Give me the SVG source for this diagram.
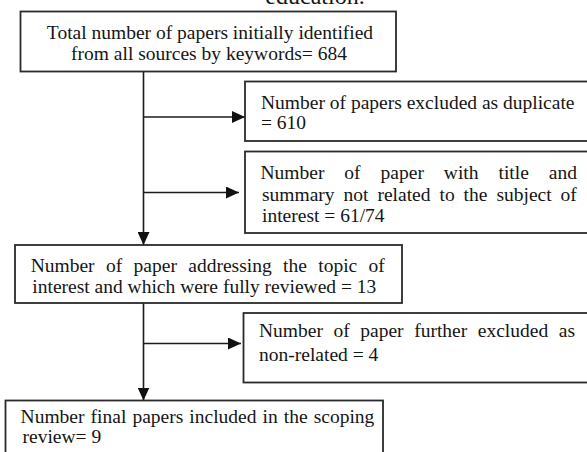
<svg xmlns="http://www.w3.org/2000/svg" width="587" height="452" viewBox="0 0 587 452">
<style>
.box{fill:#fff;stroke:#2a2a2a;stroke-width:1.8}
.t{font-family:"Liberation Serif","Times New Roman",serif;font-size:19.5px;fill:#151515}
.c{text-anchor:middle}
.ln{stroke:#1a1a1a;stroke-width:1.6;fill:none}
</style>
<defs>
<marker id="ah" markerUnits="userSpaceOnUse" markerWidth="14" markerHeight="12" refX="13" refY="6" orient="auto">
<path d="M0,0 L13,6 L0,12 Z" fill="#111"/>
</marker>
</defs>
<rect width="587" height="452" fill="#fff"/>
<text class="t c" x="315" y="4" style="font-size:24px">education.</text>
<g id="connectors">
<line class="ln" x1="143.5" y1="71.5" x2="143.5" y2="245" marker-end="url(#ah)"/>
<line class="ln" x1="143.5" y1="117" x2="245" y2="117" marker-end="url(#ah)"/>
<line class="ln" x1="143.5" y1="192.5" x2="239" y2="192.5" marker-end="url(#ah)"/>
<line class="ln" x1="143.5" y1="303" x2="143.5" y2="400.5" marker-end="url(#ah)"/>
<line class="ln" x1="143.5" y1="343.5" x2="241" y2="343.5" marker-end="url(#ah)"/>
</g>
<g id="n1">
<rect class="box" x="20.5" y="11.5" width="375.5" height="60"/>
<text class="t c" x="210" y="39">Total number of papers initially identified</text>
<text class="t c" x="209" y="60">from all sources by keywords= 684</text>
</g>
<g id="n2">
<rect class="box" x="245" y="81.5" width="350" height="59.5"/>
<text class="t" x="261" y="109">Number of papers excluded as duplicate</text>
<text class="t" x="261" y="129">= 610</text>
</g>
<g id="n3">
<rect class="box" x="245" y="151.5" width="350" height="81.5"/>
<text class="t" x="260.5" y="178.5" word-spacing="15.1">Number of paper with title and</text>
<text class="t" x="262" y="200.5" word-spacing="4.1">summary not related to the subject of</text>
<text class="t" x="262" y="221.5">interest = 61/74</text>
</g>
<g id="n4">
<rect class="box" x="15" y="245" width="387" height="58"/>
<text class="t" x="30.7" y="271.5" word-spacing="6.5">Number of paper addressing the topic of</text>
<text class="t" x="32.3" y="292.5">interest and which were fully reviewed = 13</text>
</g>
<g id="n5">
<rect class="box" x="243.5" y="313" width="350" height="69.5"/>
<text class="t" x="259" y="336.5" word-spacing="5.7">Number of paper further excluded as</text>
<text class="t" x="259" y="360.5">non-related = 4</text>
</g>
<g id="n6">
<rect class="box" x="5.5" y="400.5" width="377.5" height="60"/>
<text class="t" x="20.6" y="422.5" word-spacing="1.2">Number final papers included in the scoping</text>
<text class="t" x="22.5" y="443">review= 9</text>
</g>
</svg>
